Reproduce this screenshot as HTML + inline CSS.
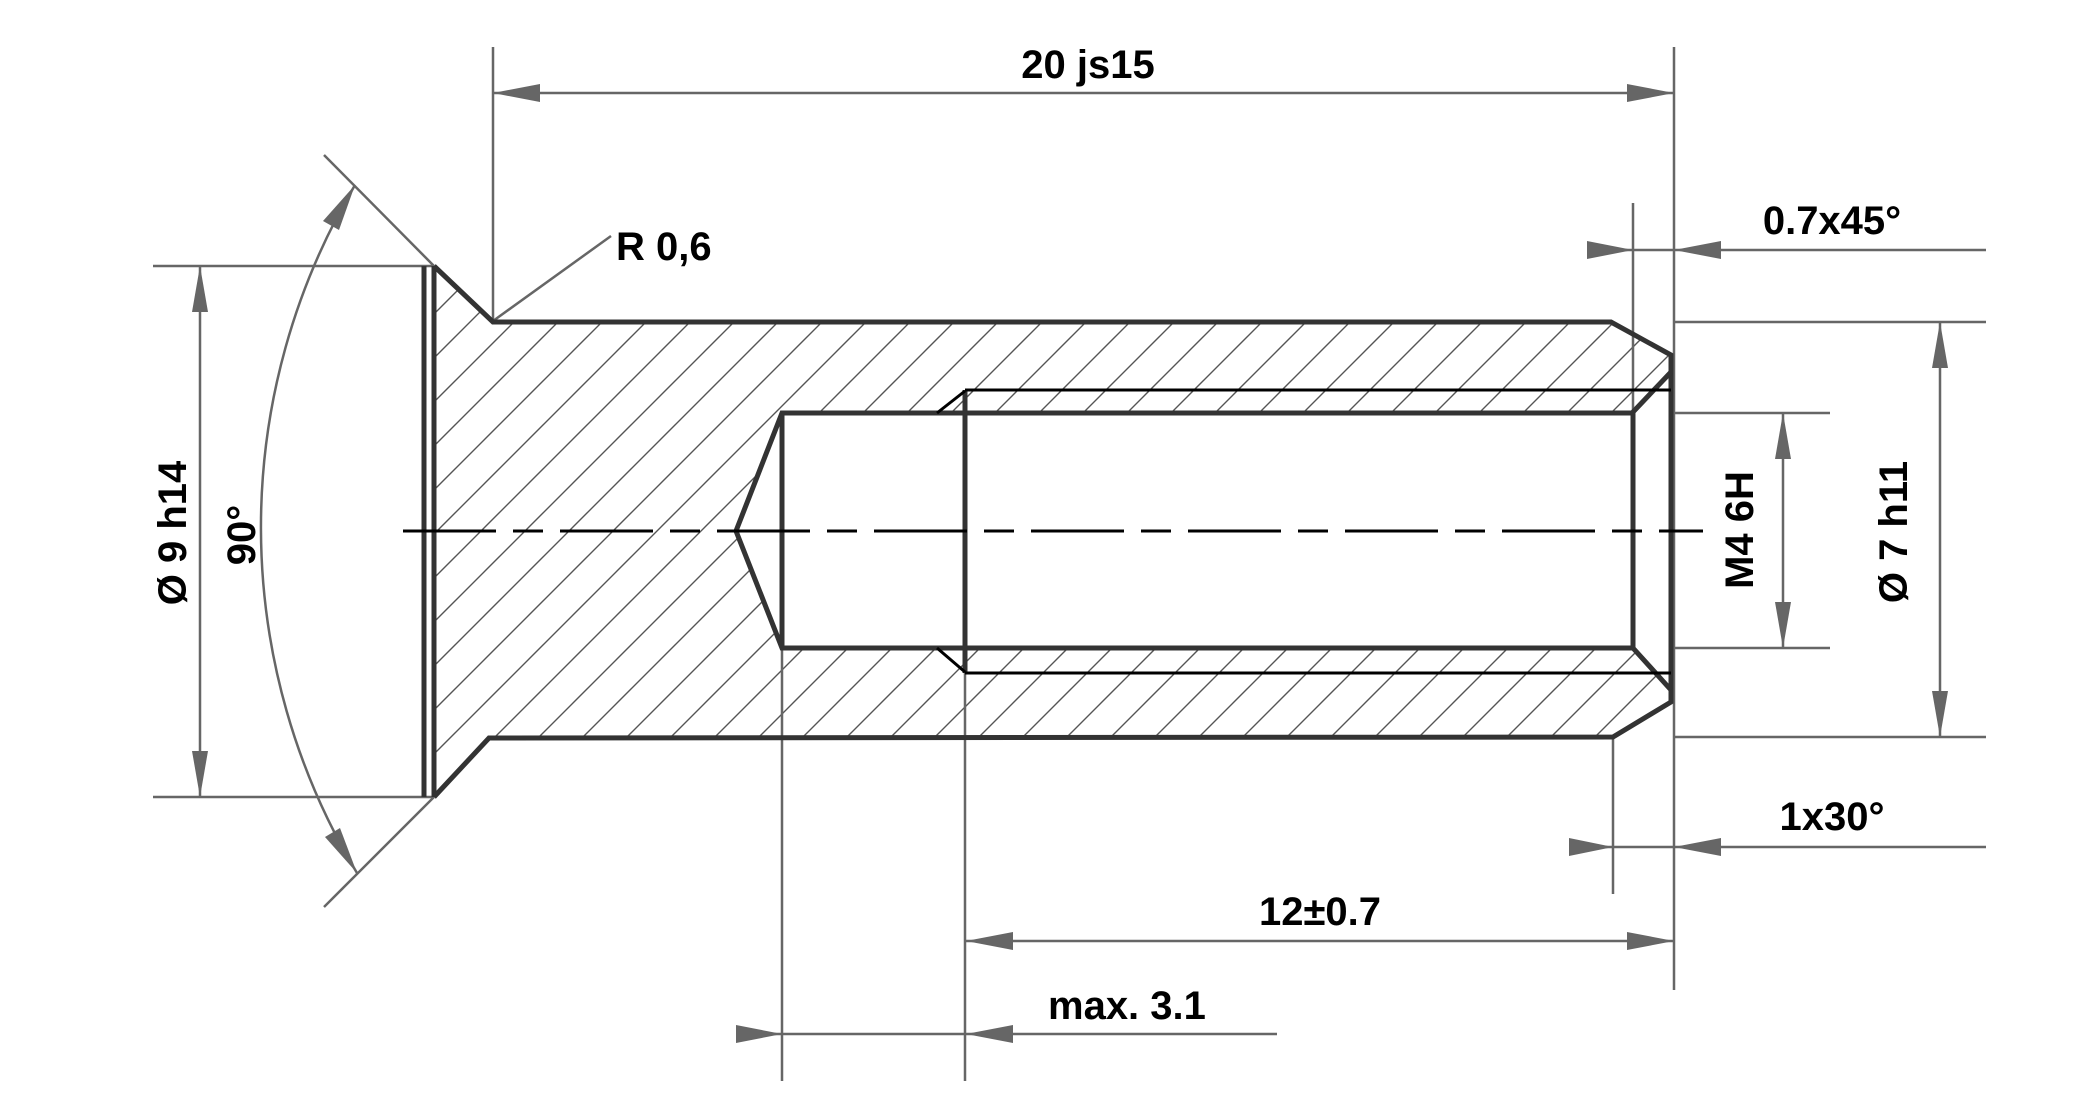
<!DOCTYPE html>
<html><head><meta charset="utf-8"><style>
html,body{margin:0;padding:0;background:#fff;}
svg{display:block;}
text{font-family:"Liberation Sans",sans-serif;font-weight:bold;font-size:40px;fill:#000;}
</style></head><body>
<svg width="2088" height="1094" viewBox="0 0 2088 1094" xmlns="http://www.w3.org/2000/svg">
<defs>
<pattern id="h" patternUnits="userSpaceOnUse" width="44" height="44">
<path d="M-11 11 L11 -11 M0 44 L44 0 M33 55 L55 33" stroke="#555" stroke-width="1.4"/>
</pattern>
<clipPath id="c">
<path clip-rule="evenodd" d="M434 266 L493 322 L1611 322 L1671 355 L1671 702 L1613 737 L489 738 L434 797 Z M736 531 L782 413 L1633 413 L1671 372 L1671 690 L1633 648 L782 648 Z"/>
</clipPath>
</defs>
<rect x="0" y="0" width="2088" height="1094" fill="url(#h)" clip-path="url(#c)"/>

<g stroke="#666" stroke-width="2.5" fill="none">
<line x1="493" y1="47" x2="493" y2="322"/>
<line x1="1674" y1="47" x2="1674" y2="990"/>
<line x1="493" y1="93" x2="1674" y2="93"/>
<line x1="153" y1="266" x2="434" y2="266"/>
<line x1="153" y1="797" x2="434" y2="797"/>
<line x1="200" y1="266" x2="200" y2="797"/>
<line x1="324" y1="155" x2="434" y2="266"/>
<line x1="324" y1="907" x2="434" y2="797"/>
<path d="M355 185 A670 670 0 0 0 357 873"/>
<line x1="493" y1="321" x2="611" y2="236"/>
<line x1="1633" y1="203" x2="1633" y2="412"/>
<line x1="1587" y1="250" x2="1986" y2="250"/>
<line x1="1674" y1="322" x2="1986" y2="322"/>
<line x1="1674" y1="737" x2="1986" y2="737"/>
<line x1="1940" y1="322" x2="1940" y2="737"/>
<line x1="1674" y1="413" x2="1830" y2="413"/>
<line x1="1674" y1="648" x2="1830" y2="648"/>
<line x1="1783" y1="413" x2="1783" y2="648"/>
<line x1="1613" y1="737" x2="1613" y2="894"/>
<line x1="1569" y1="847" x2="1986" y2="847"/>
<line x1="965" y1="673" x2="965" y2="1081"/>
<line x1="782" y1="648" x2="782" y2="1081"/>
<line x1="965" y1="941" x2="1674" y2="941"/>
<line x1="736" y1="1034" x2="1277" y2="1034"/>
</g>
<g fill="#666">
<polygon points="493,93 540,84 540,102"/>
<polygon points="1674,93 1627,84 1627,102"/>
<polygon points="200,266 192,312 208,312"/>
<polygon points="200,797 192,751 208,751"/>
<polygon points="355,185 339,230 323,221"/>
<polygon points="357,873 340,828 325,837"/>
<polygon points="1633,250 1587,241 1587,259"/>
<polygon points="1674,250 1721,241 1721,259"/>
<polygon points="1940,322 1932,368 1948,368"/>
<polygon points="1940,737 1932,691 1948,691"/>
<polygon points="1783,413 1775,459 1791,459"/>
<polygon points="1783,648 1775,602 1791,602"/>
<polygon points="1613,847 1569,838 1569,856"/>
<polygon points="1674,847 1721,838 1721,856"/>
<polygon points="966,941 1013,932 1013,950"/>
<polygon points="1674,941 1627,932 1627,950"/>
<polygon points="782,1034 736,1025 736,1043"/>
<polygon points="966,1034 1013,1025 1013,1043"/>
</g>

<g stroke="#333" stroke-width="5" fill="none" stroke-linejoin="miter">
<line x1="424" y1="266" x2="424" y2="797"/>
<line x1="434" y1="266" x2="434" y2="797"/>
<polyline points="434,266 493,322 1611,322 1671,355 1671,702 1613,737 489,738 434,797"/>
<polyline points="1633,413 782,413 736,531 782,648 1633,648"/>
<line x1="782" y1="413" x2="782" y2="648"/>
<line x1="965" y1="390" x2="965" y2="673"/>
<polyline points="1671,372 1633,412 1633,648 1671,690"/>
</g>
<g stroke="#000" stroke-width="3" fill="none">
<line x1="965" y1="390" x2="1671" y2="390"/>
<line x1="965" y1="673" x2="1671" y2="673"/>
<line x1="937" y1="413" x2="965" y2="391"/>
<line x1="937" y1="648" x2="965" y2="672"/>
<line x1="403" y1="531" x2="1703" y2="531" stroke-dasharray="93 17 30 17"/>
</g>

<text x="1088" y="78" text-anchor="middle">20 js15</text>
<text x="616" y="260">R 0,6</text>
<text x="1832" y="234" text-anchor="middle">0.7x45°</text>
<text x="1832" y="830" text-anchor="middle">1x30°</text>
<text x="1320" y="925" text-anchor="middle">12±0.7</text>
<text x="1048" y="1019">max. 3.1</text>
<text transform="translate(186,533) rotate(-90)" text-anchor="middle">Ø 9 h14</text>
<text transform="translate(255,535) rotate(-90)" text-anchor="middle">90°</text>
<text transform="translate(1753,530) rotate(-90)" text-anchor="middle">M4 6H</text>
<text transform="translate(1907,532) rotate(-90)" text-anchor="middle">Ø 7 h11</text>
</svg>
</body></html>
